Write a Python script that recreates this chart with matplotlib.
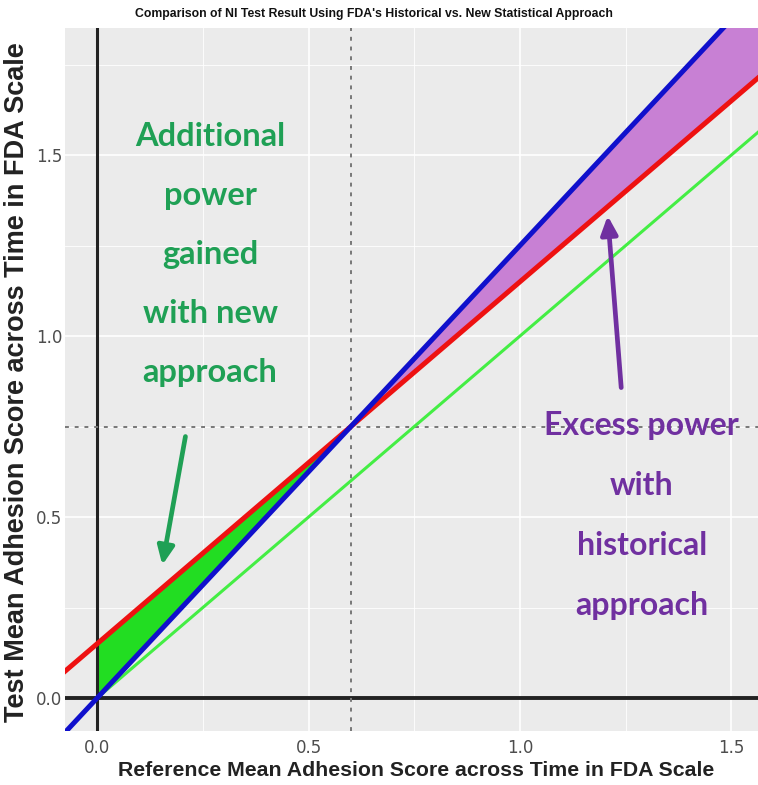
import numpy as np
import matplotlib
matplotlib.use("Agg")
import matplotlib.pyplot as plt

# Decision lines (Test = intercept + slope * Reference)
historical_intercept = 0.15   # red: historical NI margin line
historical_slope = 1.0
new_slope = 1.25              # blue: new ratio-based approach
identity_slope = 1.0          # green: equality line
ref_cut = 0.6                 # crossing point of the two approaches
test_cut = 0.75

x_ticks = [0.0, 0.5, 1.0, 1.5]
y_ticks = [0.0, 0.5, 1.0, 1.5]
x_limits = (-0.076, 1.563)
y_limits = (-0.091, 1.851)

title = "Comparison of NI Test Result Using FDA's Historical vs. New Statistical Approach"
x_label = "Reference Mean Adhesion Score across Time in FDA Scale"
y_label = "Test Mean Adhesion Score across Time in FDA Scale"
green_note = "Additional\npower\ngained\nwith new\napproach"
purple_note = "Excess power\nwith\nhistorical\napproach"

fig = plt.figure(figsize=(7.58, 7.85), dpi=100)
ax = fig.add_axes([65 / 758, (785 - 731) / 785, (758 - 65) / 758, (731 - 28) / 785])
ax.set_facecolor("#ebebeb")
ax.set_xlim(*x_limits)
ax.set_ylim(*y_limits)

# ggplot-like grid
for v in np.arange(-0.25, 1.76, 0.25):
    lw = 1.2 if abs(v * 2 - round(v * 2)) < 1e-9 else 0.6
    ax.axvline(v, color="white", lw=lw, zorder=0)
for v in np.arange(-0.25, 2.0, 0.25):
    lw = 1.2 if abs(v * 2 - round(v * 2)) < 1e-9 else 0.6
    ax.axhline(v, color="white", lw=lw, zorder=0)

x = np.linspace(x_limits[0], x_limits[1], 400)
red = historical_intercept + historical_slope * x
blue = new_slope * x
green = identity_slope * x

# shaded regions between the two decision lines
m1 = (x >= 0) & (x <= ref_cut)
ax.fill_between(x[m1], blue[m1], red[m1], color="#22dd22", zorder=1, lw=0)
m2 = x >= ref_cut
ax.fill_between(x[m2], red[m2], blue[m2], color="#c880d4", zorder=1, lw=0)

# reference axes and cut lines
ax.axhline(0, color="#222222", lw=2.8, zorder=2)
ax.axvline(0, color="#222222", lw=2.2, zorder=2)
ax.axhline(test_cut, color="#777777", lw=1.4, ls=(0, (2, 3)), zorder=2)
ax.axvline(ref_cut, color="#777777", lw=1.4, ls=(0, (2, 3)), zorder=2)

ax.plot(x[x >= 0], green[x >= 0], color="#44ee44", lw=2.2, zorder=3)
ax.plot(x, red, color="#ee1111", lw=3.6, zorder=4)
ax.plot(x, blue, color="#1010cc", lw=3.6, zorder=5)

ax.set_xticks(x_ticks)
ax.set_yticks(y_ticks)
ax.set_xticklabels([f"{t:.1f}" for t in x_ticks])
ax.set_yticklabels([f"{t:.1f}" for t in y_ticks])
ax.tick_params(length=0, labelsize=12, colors="#4d4d4d")
ax.tick_params(axis="y", pad=2)
ax.tick_params(axis="x", pad=6)
for s in ax.spines.values():
    s.set_visible(False)

fig.text(374 / 758, 1 - 14 / 785, title, ha="center", va="center",
         fontsize=8.8, fontweight="bold", family="Liberation Sans",
         color="#111111")
fig.text(416 / 758, 1 - 771 / 785, x_label, ha="center", va="center",
         fontsize=15.3, fontweight="bold", color="#222222", family="Liberation Sans")
fig.text(17 / 758, 1 - 382 / 785, y_label, ha="center", va="center", rotation=90,
         fontsize=19.5, fontweight="bold", color="#222222", family="Liberation Sans")

ax.text(0.267, 1.224, green_note, ha="center", va="center", fontsize=23.5,
        fontweight="bold", family="Lato", color="#1fa055", linespacing=2.25, zorder=6)
ax.text(1.288, 0.505, purple_note, ha="center", va="center", fontsize=23,
        fontweight="bold", family="Lato", color="#7030a0", linespacing=2.29, zorder=6)

ax.annotate("", xy=(0.153, 0.36), xytext=(0.21, 0.73),
            arrowprops=dict(arrowstyle="-|>,head_length=1.1,head_width=0.5",
                            color="#1fa055", lw=3.4), zorder=6)
ax.annotate("", xy=(1.207, 1.34), xytext=(1.24, 0.85),
            arrowprops=dict(arrowstyle="-|>,head_length=1.1,head_width=0.5",
                            color="#7030a0", lw=3.4), zorder=6)

fig.savefig("out.png", dpi=100)
